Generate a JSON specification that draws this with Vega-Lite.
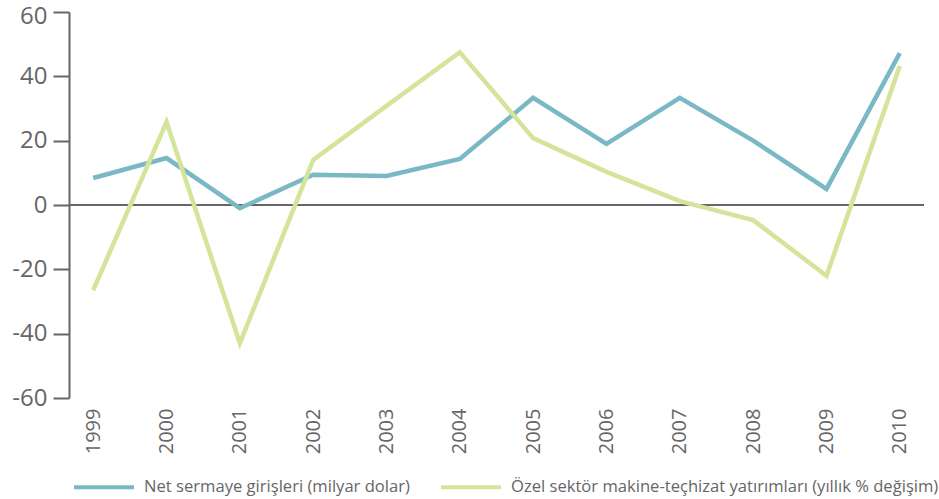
{
  "$schema": "https://vega.github.io/schema/vega-lite/v6.json",
  "width": 855,
  "height": 386,
  "autosize": {"type": "none"},
  "padding": {"left": 69, "top": 12, "right": 15, "bottom": 101},
  "background": "white",
  "config": {
    "view": {"stroke": null},
    "font": "Open Sans",
    "axis": {"labelFont": "Open Sans", "labelColor": "#666666", "grid": false}
  },
  "data": {
    "values": [
      {"year": "1999", "series": "Net sermaye girişleri (milyar dolar)", "value": 8.4},
      {"year": "2000", "series": "Net sermaye girişleri (milyar dolar)", "value": 14.6},
      {"year": "2001", "series": "Net sermaye girişleri (milyar dolar)", "value": -1.0},
      {"year": "2002", "series": "Net sermaye girişleri (milyar dolar)", "value": 9.4},
      {"year": "2003", "series": "Net sermaye girişleri (milyar dolar)", "value": 9.0},
      {"year": "2004", "series": "Net sermaye girişleri (milyar dolar)", "value": 14.3},
      {"year": "2005", "series": "Net sermaye girişleri (milyar dolar)", "value": 33.3},
      {"year": "2006", "series": "Net sermaye girişleri (milyar dolar)", "value": 19.0},
      {"year": "2007", "series": "Net sermaye girişleri (milyar dolar)", "value": 33.3},
      {"year": "2008", "series": "Net sermaye girişleri (milyar dolar)", "value": 20.0},
      {"year": "2009", "series": "Net sermaye girişleri (milyar dolar)", "value": 5.0},
      {"year": "2010", "series": "Net sermaye girişleri (milyar dolar)", "value": 47.2},
      {"year": "1999", "series": "Özel sektör makine-teçhizat yatırımları (yıllık % değişim)", "value": -26.5},
      {"year": "2000", "series": "Özel sektör makine-teçhizat yatırımları (yıllık % değişim)", "value": 25.8},
      {"year": "2001", "series": "Özel sektör makine-teçhizat yatırımları (yıllık % değişim)", "value": -43.0},
      {"year": "2002", "series": "Özel sektör makine-teçhizat yatırımları (yıllık % değişim)", "value": 14.0},
      {"year": "2003", "series": "Özel sektör makine-teçhizat yatırımları (yıllık % değişim)", "value": 30.8},
      {"year": "2004", "series": "Özel sektör makine-teçhizat yatırımları (yıllık % değişim)", "value": 47.5},
      {"year": "2005", "series": "Özel sektör makine-teçhizat yatırımları (yıllık % değişim)", "value": 20.8},
      {"year": "2006", "series": "Özel sektör makine-teçhizat yatırımları (yıllık % değişim)", "value": 10.3},
      {"year": "2007", "series": "Özel sektör makine-teçhizat yatırımları (yıllık % değişim)", "value": 1.2},
      {"year": "2008", "series": "Özel sektör makine-teçhizat yatırımları (yıllık % değişim)", "value": -4.7},
      {"year": "2009", "series": "Özel sektör makine-teçhizat yatırımları (yıllık % değişim)", "value": -22.0},
      {"year": "2010", "series": "Özel sektör makine-teçhizat yatırımları (yıllık % değişim)", "value": 43.2}
    ]
  },
  "layer": [
    {
      "mark": {"type": "rule", "color": "#666666", "strokeWidth": 2},
      "encoding": {"y": {"datum": 0, "type": "quantitative"}}
    },
    {
      "mark": {"type": "line", "strokeWidth": 4.5, "strokeJoin": "miter"},
      "encoding": {
        "x": {
          "field": "year",
          "type": "ordinal",
          "scale": {"type": "point", "padding": 0.33},
          "axis": {
            "title": null,
            "orient": "bottom",
            "domain": false,
            "ticks": false,
            "labelAngle": -90,
            "labelFontSize": 20,
            "labelPadding": 10
          }
        },
        "y": {
          "field": "value",
          "type": "quantitative",
          "scale": {"domain": [-60, 60], "nice": false, "zero": false},
          "axis": {
            "title": null,
            "values": [-60, -40, -20, 0, 20, 40, 60],
            "labelExpr": "datum.value < 0 ? '-' + abs(datum.value) : '' + datum.value",
            "labelOffset": {"condition": {"test": "datum.value == 60", "value": 4}, "value": 0},
            "domainColor": "#666666",
            "domainWidth": 2,
            "tickColor": "#666666",
            "tickWidth": 2,
            "tickSize": 16,
            "labelFontSize": 24,
            "labelPadding": 6
          }
        },
        "color": {
          "field": "series",
          "type": "nominal",
          "scale": {
            "domain": ["Net sermaye girişleri (milyar dolar)", "Özel sektör makine-teçhizat yatırımları (yıllık % değişim)"],
            "range": ["#7ab8c6", "#d4e49a"]
          },
          "legend": {
            "title": null,
            "orient": "none",
            "direction": "horizontal",
            "legendX": 3,
            "legendY": 443,
            "symbolType": "stroke",
            "symbolSize": 3600,
            "symbolStrokeWidth": 4,
            "labelFontSize": 16.6,
            "labelColor": "#666666",
            "labelFont": "Open Sans",
            "labelOffset": 8,
            "columnPadding": 23,
            "labelLimit": 600
          }
        }
      }
    }
  ]
}
